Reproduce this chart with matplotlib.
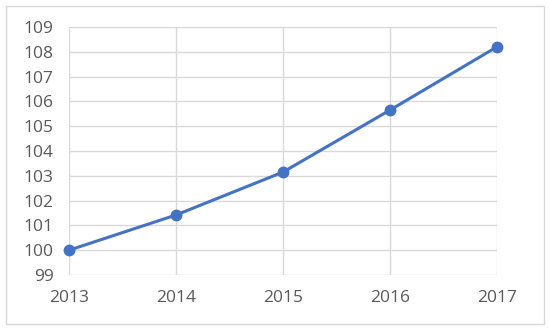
import matplotlib.pyplot as plt
from matplotlib.patches import Rectangle

years = [2013, 2014, 2015, 2016, 2017]
values = [100.0, 101.42, 103.15, 105.65, 108.2]
y_ticks = list(range(99, 110))

plt.rcParams["font.family"] = ["Open Sans", "DejaVu Sans"]

fig = plt.figure(figsize=(5.5, 3.3), dpi=100)
ax = fig.add_axes([69 / 550, 1 - 275 / 330, (497 - 69) / 550, (275 - 27) / 330])

ax.plot(years, values, color="#4472C4", linewidth=2.2, marker="o",
        markersize=7.5, zorder=3, clip_on=False)

ax.set_xlim(years[0], years[-1])
ax.set_ylim(y_ticks[0], y_ticks[-1])
ax.set_xticks(years)
ax.set_yticks(y_ticks)
ax.grid(True, color="#d9d9d9", linewidth=1)
for s in ax.spines.values():
    s.set_visible(False)
ax.tick_params(length=0, labelsize=12.5, colors="#595959")
ax.tick_params(axis="y", pad=11)
ax.tick_params(axis="x", pad=11)

# outer chart border
fig.patches.append(Rectangle((6 / 550, 6 / 330), 538 / 550, 318 / 330,
                             transform=fig.transFigure, fill=False,
                             edgecolor="#d9d9d9", linewidth=1))

fig.savefig("out.png", dpi=100)
